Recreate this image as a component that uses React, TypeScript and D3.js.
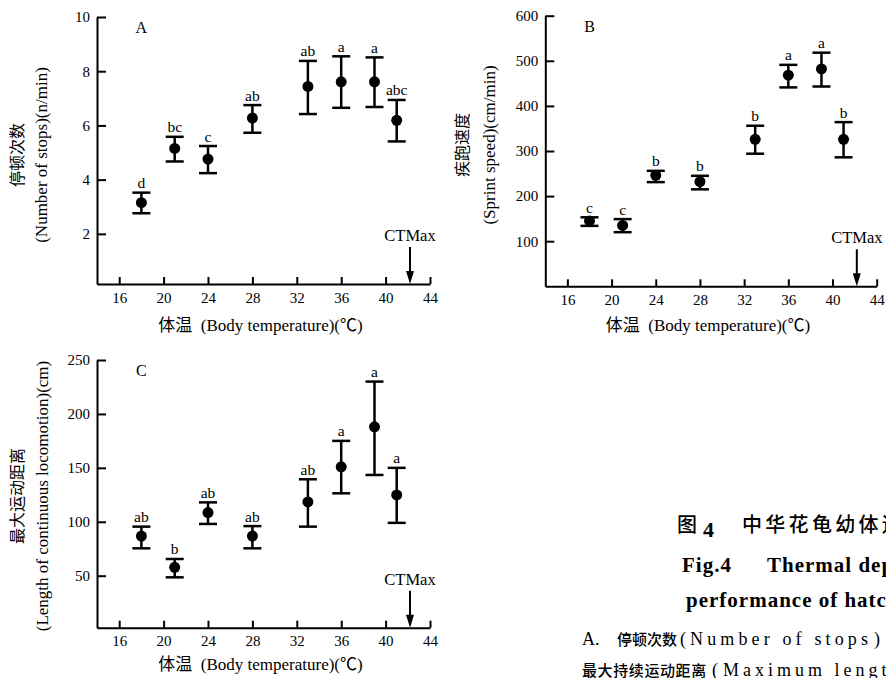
import React from 'react';
import * as d3 from 'd3';

// body temperatures of the test groups
const temps = [18, 21, 24, 28, 33, 36, 39, 41];
const xTicks = [16, 20, 24, 28, 32, 36, 40, 44];
const ctMax = 42.2;

// A. number of stops
const stopsMean = [3.15, 5.15, 4.76, 6.27, 7.44, 7.61, 7.61, 6.19];
const stopsHigh = [3.52, 5.58, 5.24, 6.75, 8.38, 8.55, 8.51, 6.94];
const stopsLow = [2.76, 4.67, 4.24, 5.73, 6.42, 6.65, 6.68, 5.41];
const stopsLetters = ['d', 'bc', 'c', 'ab', 'ab', 'a', 'a', 'abc'];
const stopsTicks = [2, 4, 6, 8, 10];

// B. sprint speed
const speedMean = [145, 135, 246, 232, 326, 468, 482, 326];
const speedHigh = [153, 149, 256, 245, 356, 491, 518, 364];
const speedLow = [134, 120, 231, 215, 294, 441, 443, 286];
const speedLetters = ['c', 'c', 'b', 'b', 'b', 'a', 'a', 'b'];
const speedTicks = [100, 200, 300, 400, 500, 600];

// C. length of continuous locomotion
const lengthMean = [86.8, 57.8, 108.5, 86.8, 118.4, 151, 188, 124.9];
const lengthHigh = [95.5, 65.5, 118, 96, 139.4, 175, 230, 150];
const lengthLow = [75.4, 48.5, 98, 75.4, 95.5, 126.4, 143.4, 99];
const lengthLetters = ['ab', 'b', 'ab', 'ab', 'ab', 'a', 'a', 'a'];
const lengthTicks = [50, 100, 150, 200, 250];

const SERIF = '\'Liberation Serif\', \'Times New Roman\', \'Noto Sans CJK SC\', serif';
const CJK = '\'Noto Sans CJK SC\', sans-serif';

interface Panel {
  name: string;
  mean: number[];
  high: number[];
  low: number[];
  letters: string[];
  yDomain: [number, number];
  yTicks: number[];
  left: number;
  right: number;
  top: number;
  bottom: number;
  labelCn: string;
  labelEn: string;
  cnX: number;
  enX: number;
  labelMid: number;
  xLabelY: number;
}

const panels: Panel[] = [
  {
    name: 'A', mean: stopsMean, high: stopsHigh, low: stopsLow,
    letters: stopsLetters, yDomain: [0.15, 10], yTicks: stopsTicks,
    left: 97, right: 430, top: 17, bottom: 284,
    labelCn: '停顿次数', labelEn: '(Number of stops)(n/min)',
    cnX: 23, enX: 47, labelMid: 155, xLabelY: 331,
  },
  {
    name: 'B', mean: speedMean, high: speedHigh, low: speedLow,
    letters: speedLetters, yDomain: [0, 600], yTicks: speedTicks,
    left: 545.3, right: 876.7, top: 15.7, bottom: 286.3,
    labelCn: '疾跑速度', labelEn: '(Sprint speed)(cm/min)',
    cnX: 468, enX: 495, labelMid: 145, xLabelY: 331,
  },
  {
    name: 'C', mean: lengthMean, high: lengthHigh, low: lengthLow,
    letters: lengthLetters, yDomain: [1.8, 250], yTicks: lengthTicks,
    left: 97, right: 430, top: 360, bottom: 627.7,
    labelCn: '最大运动距离', labelEn: '(Length of continuous locomotion)(cm)',
    cnX: 23, enX: 48, labelMid: 496, xLabelY: 670,
  },
];

export default class App extends React.Component {
  svgRef = React.createRef<SVGSVGElement>();

  componentDidMount(): void {
    this.draw();
  }

  render() {
    return (
      <div style={{position: 'absolute', left: 0, top: 0}}>
        <svg ref={this.svgRef} width={886} height={678}
          style={{display: 'block', background: '#fff'}} />
      </div>
    );
  }

  draw() {
    const svg = d3.select(this.svgRef.current);
    svg.selectAll('*').remove();

    panels.forEach((p) => drawPanel(svg, p));
    drawCaption(svg);
  }
}

function drawPanel(svg: any, p: Panel) {
  const x = d3.scaleLinear().domain([14, 44]).range([p.left, p.right]);
  const y = d3.scaleLinear().domain(p.yDomain).range([p.bottom, p.top]);
  const g = svg.append('g').attr('class', 'panel-' + p.name);

  // axes, ticks pointing inward
  const yAxis = g.append('g')
      .attr('transform', `translate(${p.left},0)`)
      .call(d3.axisLeft(y).tickValues(p.yTicks)
          .tickSizeInner(-9).tickSizeOuter(0).tickPadding(7));
  const xAxis = g.append('g')
      .attr('transform', `translate(0,${p.bottom})`)
      .call(d3.axisBottom(x).tickValues(xTicks)
          .tickSizeInner(-7).tickSizeOuter(0).tickPadding(8));

  [yAxis, xAxis].forEach((ax) => {
    ax.attr('font-family', SERIF).attr('font-size', 15);
    ax.select('.domain').attr('stroke', '#000').attr('stroke-width', 2);
    ax.selectAll('.tick line').attr('stroke', '#000').attr('stroke-width', 2);
    ax.selectAll('.tick text').attr('fill', '#000');
  });

  // panel letter
  g.append('text')
      .attr('x', x(18))
      .attr('y', p.top + 16)
      .attr('text-anchor', 'middle')
      .attr('font-family', SERIF)
      .attr('font-size', 16)
      .text(p.name);

  // error bars
  const pts = temps.map((t, i) => ({
    t, m: p.mean[i], hi: p.high[i], lo: p.low[i], letter: p.letters[i],
  }));
  const bars = g.selectAll('.bar').data(pts).join('g').attr('class', 'bar');
  bars.append('line')
      .attr('x1', (d: any) => x(d.t)).attr('x2', (d: any) => x(d.t))
      .attr('y1', (d: any) => y(d.lo)).attr('y2', (d: any) => y(d.hi))
      .attr('stroke', '#000').attr('stroke-width', 2.5);
  ['hi', 'lo'].forEach((k) => {
    bars.append('line')
        .attr('x1', (d: any) => x(d.t) - 9).attr('x2', (d: any) => x(d.t) + 9)
        .attr('y1', (d: any) => y(d[k])).attr('y2', (d: any) => y(d[k]))
        .attr('stroke', '#000').attr('stroke-width', 2.5);
  });
  bars.append('circle')
      .attr('cx', (d: any) => x(d.t))
      .attr('cy', (d: any) => y(d.m))
      .attr('r', 5.5)
      .attr('fill', '#000');
  bars.append('text')
      .attr('x', (d: any) => x(d.t))
      .attr('y', (d: any) => y(d.hi) - 4.5)
      .attr('text-anchor', 'middle')
      .attr('font-family', SERIF)
      .attr('font-size', 15.5)
      .text((d: any) => d.letter);

  // CTMax marker
  const cx = x(ctMax);
  const textY = p.bottom - 43;
  g.append('text')
      .attr('x', cx).attr('y', textY)
      .attr('text-anchor', 'middle')
      .attr('font-family', SERIF)
      .attr('font-size', 16.5)
      .text('CTMax');
  g.append('line')
      .attr('x1', cx).attr('x2', cx)
      .attr('y1', textY + 6).attr('y2', p.bottom - 10)
      .attr('stroke', '#000').attr('stroke-width', 2);
  g.append('path')
      .attr('d', `M${cx - 4},${p.bottom - 13}L${cx + 4},${p.bottom - 13}` +
        `L${cx},${p.bottom}Z`)
      .attr('fill', '#000');

  // axis titles
  g.append('text')
      .attr('x', (p.left + p.right) / 2 - 3)
      .attr('y', p.xLabelY)
      .attr('text-anchor', 'middle')
      .attr('font-family', SERIF)
      .attr('font-size', 17)
      .attr('xml:space', 'preserve')
      .text('体温  (Body temperature)(℃)');
  g.append('text')
      .attr('transform', `translate(${p.cnX},${p.labelMid}) rotate(-90)`)
      .attr('text-anchor', 'middle')
      .attr('font-family', CJK)
      .attr('font-size', 16)
      .text(p.labelCn);
  g.append('text')
      .attr('transform', `translate(${p.enX},${p.labelMid}) rotate(-90)`)
      .attr('text-anchor', 'middle')
      .attr('font-family', SERIF)
      .attr('font-size', 17)
      .text(p.labelEn);
}

function drawCaption(svg: any) {
  const g = svg.append('g').attr('class', 'caption');

  // line 1
  g.append('text').attr('x', 677).attr('y', 532)
      .attr('font-family', CJK).attr('font-size', 20).attr('font-weight', 500)
      .text('图');
  g.append('text').attr('x', 703).attr('y', 537)
      .attr('font-family', SERIF).attr('font-size', 22).attr('font-weight', 'bold')
      .text('4');
  g.append('text').attr('x', 742).attr('y', 532)
      .attr('font-family', CJK).attr('font-size', 20).attr('font-weight', 500)
      .attr('letter-spacing', 3.3)
      .text('中华花龟幼体运动表现');

  // lines 2 and 3
  g.append('text').attr('x', 682).attr('y', 572)
      .attr('font-family', SERIF).attr('font-size', 21).attr('font-weight', 'bold')
      .attr('letter-spacing', 1)
      .text('Fig.4');
  g.append('text').attr('x', 767).attr('y', 572)
      .attr('font-family', SERIF).attr('font-size', 21).attr('font-weight', 'bold')
      .attr('letter-spacing', 1)
      .text('Thermal dependence');
  g.append('text').attr('x', 686).attr('y', 607)
      .attr('font-family', SERIF).attr('font-size', 21).attr('font-weight', 'bold')
      .attr('letter-spacing', 1)
      .text('performance of hatchlings');

  // line 4
  g.append('text').attr('x', 582).attr('y', 645)
      .attr('font-family', SERIF).attr('font-size', 18)
      .text('A.');
  g.append('text').attr('x', 617).attr('y', 645)
      .attr('font-family', CJK).attr('font-size', 15).attr('font-weight', 500)
      .text('停顿次数');
  g.append('text').attr('x', 680).attr('y', 645)
      .attr('font-family', SERIF).attr('font-size', 18)
      .text('(');
  g.append('text').attr('x', 690).attr('y', 645)
      .attr('font-family', SERIF).attr('font-size', 18)
      .attr('textLength', 178).attr('lengthAdjust', 'spacing')
      .text('Number of stops');
  g.append('text').attr('x', 874).attr('y', 645)
      .attr('font-family', SERIF).attr('font-size', 18)
      .text(')');

  // line 5
  g.append('text').attr('x', 582).attr('y', 676)
      .attr('font-family', CJK).attr('font-size', 15).attr('font-weight', 500)
      .attr('letter-spacing', 0.6)
      .text('最大持续运动距离');
  g.append('text').attr('x', 712).attr('y', 676)
      .attr('font-family', SERIF).attr('font-size', 18)
      .text('(');
  g.append('text').attr('x', 723).attr('y', 676)
      .attr('font-family', SERIF).attr('font-size', 18)
      .attr('letter-spacing', 4)
      .text('Maximum length');
}
